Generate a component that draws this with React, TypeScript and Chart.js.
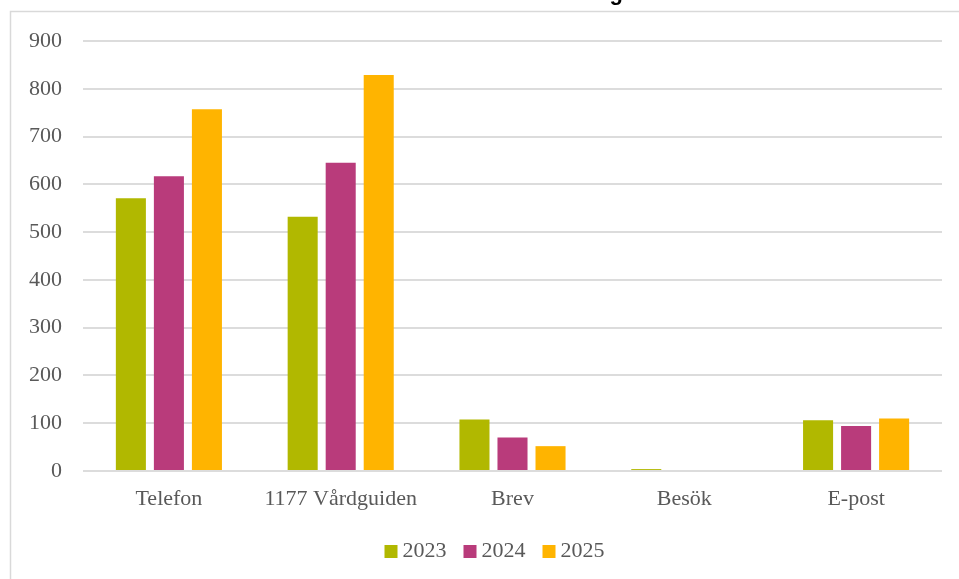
import React, { useEffect, useRef } from "react";
import { Chart, registerables } from "chart.js";

Chart.register(...registerables);

const title = "Antal ärenden efter kontaktväg";
const categories = ["Telefon", "1177 Vårdguiden", "Brev", "Besök", "E-post"];
const seriesLabels = ["2023", "2024", "2025"];
const values2023 = [571, 532, 108, 4, 106];
const values2024 = [617, 645, 70, 0, 94];
const values2025 = [757, 829, 52, 0, 110];
const colors = ["#b1b800", "#b93b7b", "#ffb400"];

const TEXT = "#595959";
const GRID = "#dcdcdc";
const SERIF = "'Liberation Serif', 'Times New Roman', serif";
const CANVAS_W = 983;

const framePlugin = {
  id: "frame",
  beforeDraw(chart: any) {
    const ctx = chart.ctx;
    ctx.save();
    ctx.strokeStyle = "#d9d9d9";
    ctx.lineWidth = 1.5;
    ctx.beginPath();
    ctx.moveTo(10.5, chart.height + 2);
    ctx.lineTo(10.5, 11.5);
    ctx.lineTo(chart.width + 2, 11.5);
    ctx.stroke();
    ctx.fillStyle = "#000";
    ctx.font = "bold 22px 'Liberation Sans', Arial, sans-serif";
    ctx.textAlign = "right";
    ctx.textBaseline = "alphabetic";
    ctx.fillText(title, 623, 0);
    ctx.restore();
  },
  afterDraw(chart: any) {
    const legend = chart.legend;
    if (!legend || !legend.legendHitBoxes) return;
    const ctx = chart.ctx;
    ctx.save();
    legend.legendHitBoxes.forEach((hb: any, i: number) => {
      ctx.fillStyle = colors[i];
      const cy = hb.top + hb.height / 2;
      ctx.fillRect(hb.left + 6, Math.round(cy - 6.5), 13, 13);
    });
    ctx.restore();
  },
};

export default function App() {
  const ref = useRef<HTMLCanvasElement | null>(null);
  useEffect(() => {
    if (!ref.current) return;
    const data = [values2023, values2024, values2025];
    const chart = new Chart(ref.current, {
      type: "bar",
      data: {
        labels: categories,
        datasets: seriesLabels.map((l, i) => ({
          label: l,
          data: data[i],
          backgroundColor: colors[i],
          categoryPercentage: 0.664,
          barPercentage: 0.79,
        })),
      },
      plugins: [framePlugin],
      options: {
        animation: false,
        responsive: false,
        maintainAspectRatio: false,
        layout: { padding: { left: 0, right: 0, top: 41, bottom: 7 } },
        plugins: {
          title: { display: false },
          tooltip: { enabled: false },
          legend: {
            position: "bottom",
            labels: {
              color: TEXT,
              font: { family: SERIF, size: 22 },
              boxWidth: 13,
              boxHeight: 13,
              padding: 11,
              generateLabels(ch: any) {
                return ch.data.datasets.map((ds: any, i: number) => ({
                  text: ds.label,
                  fillStyle: "rgba(0,0,0,0)",
                  strokeStyle: "rgba(0,0,0,0)",
                  lineWidth: 0,
                  hidden: false,
                  fontColor: TEXT,
                  datasetIndex: i,
                }));
              },
            },
          },
        },
        scales: {
          x: {
            grid: { display: false },
            border: { display: false },
            ticks: {
              color: TEXT,
              font: { family: SERIF, size: 22 },
              padding: 7,
              maxRotation: 0,
              autoSkip: false,
            },
            afterFit(axis: any) {
              axis.height = 58;
            },
          },
          y: {
            min: 0,
            max: 900,
            grid: { color: GRID, lineWidth: 2, drawTicks: false },
            border: { display: false },
            ticks: {
              stepSize: 100,
              color: TEXT,
              font: { family: SERIF, size: 22 },
              padding: 21,
            },
            afterFit(axis: any) {
              axis.width = 83;
            },
          },
          yRight: {
            position: "right",
            min: 0,
            max: 900,
            grid: { display: false, drawTicks: false },
            border: { display: false },
            ticks: { display: false },
            afterFit(axis: any) {
              axis.width = CANVAS_W - 942;
            },
          },
        },
      },
    });
    return () => chart.destroy();
  }, []);
  return (
    <div style={{ position: "absolute", left: 0, top: 0, width: 959, height: 579, overflow: "hidden" }}>
      <canvas ref={ref} width={CANVAS_W} height={579} style={{ display: "block" }} />
    </div>
  );
}
